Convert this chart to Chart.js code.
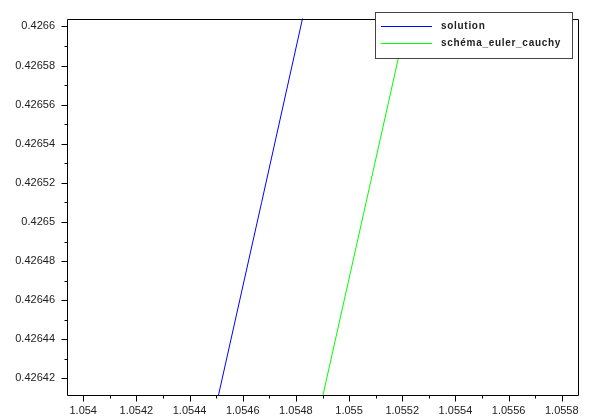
<!DOCTYPE html>
<html><head><meta charset="utf-8">
<script src="https://cdn.jsdelivr.net/npm/chart.js@4"></script>
<style>html,body{margin:0;padding:0;background:#fff;overflow:hidden;} #wrap{width:589px;height:417px;}</style>
</head><body><div id="wrap"><canvas id="c" width="589" height="417"></canvas></div>
<script>
// ---- data ----
const seriesNames = ['solution', 'schéma_euler_cauchy'];
const seriesColors = ['#0000ff', '#00ff00'];
const solutionX = [1.054490, 1.054671, 1.054851];
const solutionY = [0.42640, 0.42651, 0.42662];
const eulerX = [1.054883, 1.055064, 1.055245];
const eulerY = [0.42640, 0.42651, 0.42662];
const xTicks = [1.054, 1.0542, 1.0544, 1.0546, 1.0548, 1.055, 1.0552, 1.0554, 1.0556, 1.0558];
const yTicks = [0.42642, 0.42644, 0.42646, 0.42648, 0.4265, 0.42652, 0.42654, 0.42656, 0.42658, 0.4266];
const xBounds = [1.053939, 1.055861];
const yBounds = [0.4264115, 0.426604];

const toPts = (xs, ys) => xs.map((x, i) => ({x: x, y: ys[i]}));

const frameAndLegend = {
  id: 'frameAndLegend',
  afterDatasetsDraw(chart) {
    const ctx = chart.ctx, a = chart.chartArea;
    const xs = chart.scales.x, ys = chart.scales.y;
    ctx.save();
    ctx.strokeStyle = '#000';
    ctx.lineWidth = 1;
    const L = Math.round(a.left) + 0.5, T = Math.round(a.top) + 0.5;
    const R = Math.round(a.right) + 0.5, B = Math.round(a.bottom) + 0.5;
    ctx.beginPath();
    ctx.rect(L, T, R - L, B - T);
    ctx.stroke();
    // ticks
    ctx.beginPath();
    yTicks.forEach((v, i) => {
      const p = Math.round(ys.getPixelForValue(v)) + 0.5;
      ctx.moveTo(L - 6, p); ctx.lineTo(L, p);
      if (i < yTicks.length - 1) {
        const m = Math.round(ys.getPixelForValue((v + yTicks[i + 1]) / 2)) + 0.5;
        ctx.moveTo(L - 3, m); ctx.lineTo(L, m);
      }
    });
    xTicks.forEach((v, i) => {
      const p = Math.round(xs.getPixelForValue(v)) + 0.5;
      ctx.moveTo(p, B); ctx.lineTo(p, B + 6);
      if (i < xTicks.length - 1) {
        const m = Math.round(xs.getPixelForValue((v + xTicks[i + 1]) / 2)) + 0.5;
        ctx.moveTo(m, B); ctx.lineTo(m, B + 3);
      }
    });
    ctx.stroke();
    // legend
    const bx = 375.5, by = 12.5, bw = 197, bh = 46;
    ctx.fillStyle = '#fff';
    ctx.fillRect(bx, by, bw, bh);
    ctx.strokeStyle = '#444';
    ctx.strokeRect(bx, by, bw, bh);
    ctx.font = 'bold 10px "Liberation Sans", Arial, sans-serif';
    try { ctx.letterSpacing = '0.7px'; } catch (e) {}
    ctx.textBaseline = 'middle';
    ctx.textAlign = 'left';
    chart.data.datasets.forEach((ds, i) => {
      const yy = 26.5 + i * 17;
      ctx.strokeStyle = ds.borderColor;
      ctx.beginPath(); ctx.moveTo(381, yy); ctx.lineTo(432, yy); ctx.stroke();
      ctx.fillStyle = '#222';
      ctx.fillText(ds.label, 441, yy);
    });
    ctx.restore();
  }
};

new Chart(document.getElementById('c'), {
  type: 'scatter',
  data: {
    datasets: [
      {label: seriesNames[0], data: toPts(solutionX, solutionY), borderColor: seriesColors[0], backgroundColor: seriesColors[0], showLine: true, pointRadius: 0, borderWidth: 1, tension: 0},
      {label: seriesNames[1], data: toPts(eulerX, eulerY), borderColor: seriesColors[1], backgroundColor: seriesColors[1], showLine: true, pointRadius: 0, borderWidth: 1, tension: 0}
    ]
  },
  options: {
    responsive: false,
    animation: false,
    devicePixelRatio: 1,
    layout: {padding: {left: 0, top: 9, right: 11, bottom: 0}},
    plugins: {legend: {display: false}, tooltip: {enabled: false}},
    scales: {
      x: {
        type: 'linear', min: xBounds[0], max: xBounds[1],
        grid: {display: false, drawTicks: false}, border: {display: false},
        afterBuildTicks: s => { s.ticks = xTicks.map(v => ({value: v})); },
        afterFit: s => { s.height = 22; },
        ticks: {autoSkip: false, maxRotation: 0, padding: 9, color: '#222',
          font: {family: '"Liberation Sans", Arial, sans-serif', size: 11},
          callback: v => String(v)}
      },
      y: {
        type: 'linear', min: yBounds[0], max: yBounds[1],
        grid: {display: false, drawTicks: false}, border: {display: false},
        afterBuildTicks: s => { s.ticks = yTicks.map(v => ({value: v})); },
        afterFit: s => { s.width = 67; },
        ticks: {autoSkip: false, padding: 12, color: '#222',
          font: {family: '"Liberation Sans", Arial, sans-serif', size: 11},
          callback: v => String(v)}
      }
    }
  },
  plugins: [frameAndLegend]
});
</script></body></html>
